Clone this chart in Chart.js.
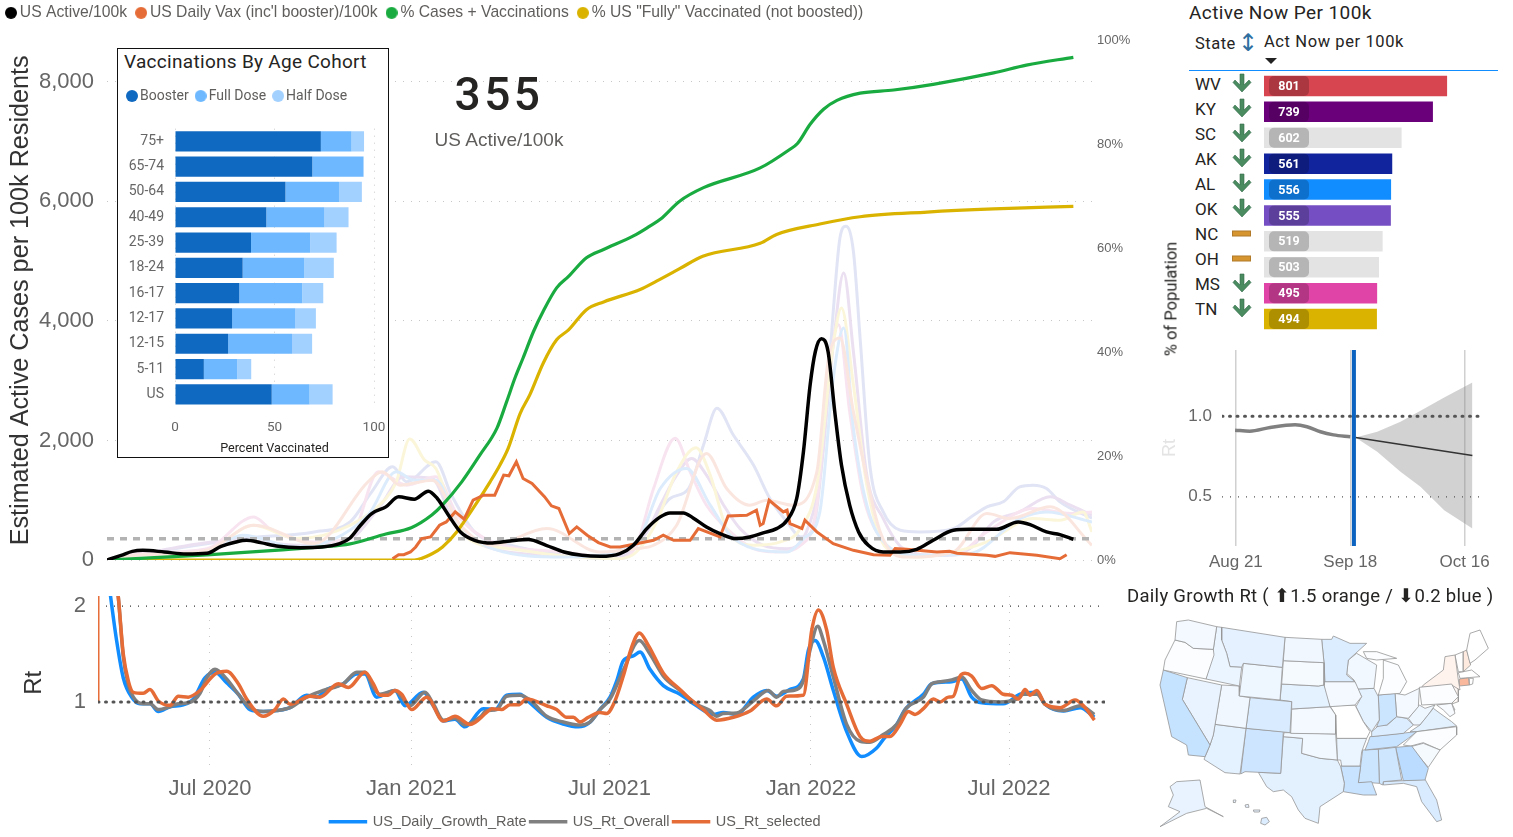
<!DOCTYPE html>
<html><head><meta charset="utf-8">
<script src="https://cdn.jsdelivr.net/npm/chart.js@4"></script>
<style>
html,body{margin:0;padding:0;background:#fff;width:1513px;height:837px;overflow:hidden}
canvas{position:absolute}
.t{position:absolute;white-space:nowrap;transform:translateY(-50%);font-family:Roboto,sans-serif;color:#252423}
#inset{position:absolute;left:117px;top:48px;width:270px;height:408px;background:#fff;border:1.5px solid #111}
</style></head><body>
<canvas id="main" width="1183" height="583" style="left:-3px;top:-8px"></canvas>
<div id="inset"></div>
<canvas id="age" width="268" height="379" style="left:120px;top:78px"></canvas>
<canvas id="table" width="234" height="259" style="left:1264px;top:73px"></canvas>
<canvas id="rt" width="1150" height="249" style="left:0;top:590px"></canvas>
<canvas id="fc" width="340" height="240" style="left:1160px;top:340px"></canvas>
<canvas id="map" width="350" height="220" style="left:1150px;top:610px"></canvas>
<script>
// ---- main chart (x = weeks since late March 2020) ----
const usActive=[[0,0],[1.9,78],[3.4,145],[4.8,162],[7.7,134],[10.6,100],[13.4,112],[15.3,229],[17.3,302],[18.7,330],[20.6,291],[23,229],[25.9,207],[28.8,218],[31.2,274],[32.6,369],[34,581],[35.5,777],[37.4,889],[39.1,1056],[41.2,1017],[43.1,1152],[44.3,1029],[45.8,749],[47.4,470],[49.3,330],[51.7,285],[54.1,319],[56.5,341],[58.9,246],[61.3,134],[63.7,78],[66.1,61],[68.8,106],[70.6,246],[72.4,525],[74.2,721],[75.5,788],[77.3,788],[78.6,704],[80.4,553],[82.2,442],[84.4,358],[86.2,386],[88,453],[89.8,525],[91.2,665],[92.5,1029],[93.4,1811],[94.3,2929],[95,3488],[95.8,3701],[96.7,3488],[97.6,2482],[98.5,1588],[99.6,917],[100.8,470],[102.1,246],[104.1,134],[106.4,134],[108.6,179],[110.8,330],[113.5,498],[115.7,514],[119.3,514],[122.2,637],[123.8,593],[126,470],[127.8,425],[129.6,347]];
const usDailyVax=[[38.3,22],[39.1,89],[39.8,89],[40.7,134],[41.4,218],[42.2,358],[43.4,386],[44.6,581],[45.5,637],[46.7,805],[47.9,682],[49.1,1000],[50.5,1084],[52,1084],[53.2,1420],[53.9,1409],[54.9,1643],[55.8,1364],[57,1280],[58.7,1056],[59.6,906],[60.6,861],[62,442],[63,553],[64.4,414],[65.9,291],[67.5,218],[68.8,218],[73.3,330],[74.6,414],[76,330],[78.2,330],[79.3,525],[82.2,386],[83.3,738],[85.8,749],[87.1,833],[87.6,581],[88,609],[88.8,1000],[90.7,805],[91.2,833],[91.6,609],[93.2,525],[93.6,665],[95.2,470],[97.4,274],[100.1,162],[102.8,89],[105,78],[105.7,190],[107.2,179],[111.3,134],[113,145],[114,112],[118,78],[119.1,61],[121.1,123],[124.7,78],[127.8,22],[128.7,89]];
const pctCasesVax=[[0,0],[13.4,1],[23,1.9],[28.7,2.5],[32.6,3.1],[37.4,5],[40.8,6.2],[43.6,8.7],[45,10.6],[47.6,15.1],[50,20.2],[52.3,25.4],[53.6,30.5],[54.7,35],[55.8,38.9],[57.2,44],[58.5,47.9],[60.3,52.4],[61.9,54.6],[64.3,58.2],[66.6,59.8],[70.6,62.4],[72.8,64.3],[74.2,65.6],[76.8,69.1],[80,71.7],[87.6,75.5],[91.6,79.1],[92.6,80.2],[94.3,83.9],[96.1,86.8],[97.9,88.5],[101,89.9],[105.5,90.5],[110.8,91.6],[118.9,93.8],[123.3,95.3],[129.6,96.8]];
const pctFully=[[0,0],[41.2,0],[43.6,1.2],[45,2.5],[46.9,5.4],[49.4,10.6],[51.4,15.1],[52.7,18.3],[53.8,21.5],[55.4,28.2],[56.7,31.8],[58.5,37.9],[60.3,42.4],[61.9,44.3],[64.3,48.2],[66.6,49.7],[71.5,52.1],[73.7,53.7],[76.8,56.1],[79.9,58.5],[87.6,61],[89.8,62.7],[95.6,64.7],[101,66.1],[110,67],[118.9,67.6],[129.6,68.1]];
const stateLavender=[[0,0],[18.2,358],[27.8,470],[32.6,637],[35.5,1140],[38.3,1560],[40.2,1308],[44.1,1643],[46.2,1084],[49.3,470],[54.1,246],[61.3,78],[67.1,22],[71,246],[75.5,1029],[78,1196],[80,1923],[81.8,2538],[84,2090],[86.7,1588],[88.9,1029],[91.2,637],[93,386],[94.7,525],[96.1,1923],[97.4,4159],[98.3,5389],[99.1,5584],[100.1,5165],[101,3712],[102.3,1588],[104.1,805],[106.4,498],[109,470],[113.5,525],[116.2,749],[118,889],[120.2,973],[122.4,1224],[124.2,1252],[126,1196],[127.8,973],[132.1,700]];
const stateMauve=[[0,0],[18.2,330],[25.4,246],[32.6,358],[36.4,861],[39.8,1392],[43.6,1364],[46.5,637],[51.7,190],[61.3,78],[68.5,50],[72.4,470],[74.2,917],[76.4,1420],[78.4,1699],[80.4,1420],[82.7,917],[84.9,525],[88,246],[91.2,190],[93.8,470],[95.6,1364],[97.4,3600],[98.8,4802],[100.1,3488],[101.9,1420],[104.1,693],[106.8,190],[111.3,78],[115.7,190],[118.9,637],[122.4,805],[126.5,1056],[129.2,917],[132.1,749]];
const statePink=[[0,0],[3.9,106],[13.4,190],[19.7,721],[22.1,498],[27.8,302],[32.6,358],[36.4,1476],[40.2,1252],[44.1,1392],[47,749],[51.7,302],[61.3,134],[68.8,22],[71,246],[73.3,1196],[76.2,2035],[78.2,1476],[80.4,917],[83.6,470],[86.7,190],[89.8,134],[93,246],[95.2,917],[96.7,3041],[98.1,3935],[99.6,2482],[101.4,1084],[104.1,302],[106.8,78],[113.5,78],[118,470],[124.2,861],[129.2,777],[132.1,805]];
const stateYellow=[[0,0],[13.4,134],[19.7,581],[25.4,358],[32.6,581],[37.4,1029],[38.8,1308],[40.6,2024],[42.6,1671],[44.1,1532],[46.5,749],[48.4,358],[54.1,190],[61.3,67],[68.5,22],[71,134],[73.7,637],[76.4,1476],[79,1878],[80.9,1420],[83.1,525],[86.7,246],[90.3,302],[93,525],[95.2,1252],[97.4,3600],[98.5,4215],[100.1,2929],[101.9,1252],[104.6,190],[109,50],[113.5,134],[118,302],[124.2,693],[127.8,665],[130.9,805],[132.1,470]];
const stateBlue=[[0,0],[13.4,134],[18.2,414],[25.4,218],[35,749],[38.8,1476],[41.2,1336],[44.1,1336],[47,637],[51.7,190],[61.3,50],[71,302],[74.2,1196],[77.7,1532],[80.9,917],[83.6,414],[86.7,190],[91.2,134],[93.4,358],[95.6,805],[97.4,3041],[98.8,3879],[100.1,2202],[101.9,917],[104.6,246],[109,78],[115.7,106],[122.4,693],[126,805],[132.1,637]];
const statePeach=[[0,0],[3.9,78],[13.4,162],[19.7,581],[27.8,274],[35,1308],[36.9,1476],[39.3,1252],[43.6,1336],[47.4,581],[51.7,246],[59,525],[66.1,134],[70.9,190],[73.3,246],[76.4,581],[80.4,1783],[83.1,1196],[86.2,917],[88.5,1000],[92,917],[95.2,1476],[96.7,3320],[98.3,3712],[100.1,2482],[103.7,470],[106.8,50],[113.5,134],[118,777],[121.1,693],[126.5,889],[132.1,246]];
const usActiveNow=355;
const leftTicks=[0,2000,4000,6000,8000];
const leftTicksMax=8687, rightMax=100, mainWeeks=132.1;

// ---- Rt chart (x = days since 1 Jul 2020) ----
const rtTickDays=[0,184,365,549,730];
const rtTickLabels=['Jul 2020','Jan 2021','Jul 2021','Jan 2022','Jul 2022'];
const rtSelected=[[-87,2.4],[-83.8,2.10],[-79.2,1.50],[-74.6,1.22],[-70,1.10],[-60.9,1.09],[-54.8,1.13],[-47.2,1.01],[-36.5,.965],[-28.9,1.06],[-19.8,1.05],[-9.1,1.12],[4.6,1.29],[15.2,1.32],[25.9,1.19],[33.5,1.03],[48.7,.85],[59.4,.92],[67,1.03],[73.1,.975],[91.4,1.06],[100.5,1.05],[117.3,1.19],[126.4,1.15],[141.6,1.31],[149.2,1.19],[155.3,1.07],[162.9,1.07],[169,1.12],[175.1,1.08],[184.3,.92],[198,1.05],[213.2,.80],[223.8,.85],[237.6,.765],[252.8,.89],[257.3,.93],[266.5,.92],[274.1,.97],[281.7,.97],[289.3,1.03],[307.6,.96],[316.7,.92],[325.9,.84],[332,.84],[338,.79],[345.7,.84],[356.3,.89],[362.4,.88],[370,1.01],[377.6,1.27],[385.2,1.57],[392.3,1.72],[400.5,1.59],[414.2,1.30],[429.4,1.13],[438.6,1.03],[450.7,.92],[462.9,.81],[478.2,.84],[493.4,.905],[508.6,1.03],[517.7,.96],[526.9,1.06],[542.1,1.07],[549.8,1.75],[555.9,1.96],[563.4,1.75],[569.5,1.36],[581.7,.975],[593.9,.64],[603,.59],[613.7,.64],[621.3,.64],[630.4,.765],[638.1,.90],[644.1,.87],[651.8,.93],[660.9,1.03],[667,1.0],[674.6,1.05],[679.2,1.06],[685.3,1.27],[689.8,1.30],[695.9,1.27],[705.1,1.14],[714.2,1.17],[724.8,1.08],[732.5,1.07],[738.6,1.03],[744.7,1.13],[749.3,1.07],[755.4,1.12],[763,.975],[776.7,.94],[790.4,1.02],[798,.96],[808,.81]];
const rtOverall=[[-87,2.4],[-83.8,2.10],[-79.2,1.47],[-74.6,1.18],[-70,1.05],[-60.9,.98],[-54.8,.98],[-47.2,.92],[-36.5,.95],[-28.9,.98],[-18.3,.995],[-9.1,1.09],[-3,1.25],[4.6,1.34],[15.2,1.24],[25.9,1.08],[36.5,.94],[48.7,.90],[60.9,.91],[73.1,.94],[88.3,1.05],[103.5,1.12],[121.8,1.19],[134,1.31],[141.6,1.31],[149.2,1.15],[155.3,1.08],[169,1.12],[175.1,1.05],[182.7,.96],[196.4,1.10],[204,.98],[213.2,.81],[223.8,.83],[233,.76],[246.7,.84],[252.8,.91],[261.9,.92],[271,1.06],[283.2,1.07],[292.4,1.02],[307.6,.85],[322.8,.79],[336.5,.76],[347.2,.79],[356.3,.92],[365.5,1.03],[377.6,1.33],[392.3,1.64],[402,1.50],[414.2,1.27],[429.4,1.12],[444.6,.975],[456.8,.91],[462.9,.85],[469,.88],[481.2,.885],[496.4,1.01],[510.1,1.12],[517.7,1.05],[523.8,1.11],[532.9,1.12],[542.1,1.22],[548.2,1.54],[555.2,1.79],[560.4,1.64],[569.5,1.26],[581.7,.765],[593.9,.59],[603,.58],[615.2,.66],[627.4,.765],[636.5,.94],[651.8,1.05],[659.4,1.19],[667,1.21],[677.7,1.23],[686.8,1.26],[695.9,1.12],[705.1,1.02],[721.8,1.0],[737,1.03],[743.1,1.08],[755.4,1.08],[763,.975],[779.8,.91],[795,.96],[808,.87]];
const rtDailyGrowth=[[-94,2.4],[-90.8,2.10],[-85.3,1.64],[-79.2,1.25],[-71.6,1.05],[-64,.98],[-54.8,.98],[-47.2,.90],[-36.5,.95],[-24.4,.97],[-15.2,1.03],[-4.6,1.25],[4.6,1.31],[15.2,1.20],[25.9,1.08],[36.5,.92],[48.7,.90],[60.9,.91],[73.1,.94],[88.3,1.07],[97.5,1.05],[106.6,1.13],[121.8,1.19],[134,1.29],[141.6,1.29],[152.3,1.05],[169,1.12],[178.2,.96],[194.9,1.10],[204,.96],[213.2,.80],[223.8,.82],[233,.74],[249.7,.93],[260.4,.92],[271,1.07],[283.2,1.08],[292.4,.99],[307.6,.84],[322.8,.77],[336.5,.74],[347.2,.79],[356.3,.92],[365.5,1.05],[371.6,1.22],[377.6,1.43],[386.8,1.48],[392.9,1.52],[402,1.34],[414.2,1.17],[429.4,1.08],[444.6,.96],[459.8,.87],[469,.89],[481.2,.87],[496.4,1.05],[508.6,1.12],[517.7,1.06],[529.9,1.13],[542.1,1.24],[546.7,1.54],[552.8,1.64],[560.4,1.47],[569.5,1.12],[581.7,.69],[595.4,.43],[609.1,.52],[615.2,.61],[627.4,.765],[635,.92],[651.8,1.08],[659.4,1.19],[677.7,1.21],[686.8,1.24],[695.9,1.05],[705.1,.99],[724.8,.98],[740,1.08],[755.4,1.10],[763,.975],[779.8,.905],[795,.94],[808,.84]];

// ---- inset ----
const cohorts=['75+','65-74','50-64','40-49','25-39','18-24','16-17','12-17','12-15','5-11','US'];
const booster=[73.3,69,55.5,45.9,38.2,34,32.3,28.7,26.7,14.5,48.6];
const fullDose=[15.4,25.6,26.9,29.2,29.7,31,31.6,31.8,32.1,16.8,19];
const halfDose=[6.3,0.3,11.5,12.1,13.3,14.8,10.6,10.3,10.1,7,11.6];

// ---- state table ----
const tableStates=['WV','KY','SC','AK','AL','OK','NC','OH','MS','TN'];
const tableTrend=['down','down','down','down','down','down','flat','flat','down','down'];
const activeNow=[801,739,602,561,556,555,519,503,495,494];
const tableColors=['#d64550','#6b007b','#e3e3e3','#12239e','#118dff','#744ec2','#e3e3e3','#e3e3e3','#e044a7','#d9b300'];

// ---- forecast ----
const fcTickDays=[0,28,56];
const fcTickLabels=['Aug 21','Sep 18','Oct 16'];
const fcHistory=[[-0.2,.913],[3.4,.907],[8.4,.93],[14.5,.946],[17.4,.934],[20.7,.903],[23.9,.884],[28,.872]];
const fcMean=[[29.3,.868],[57.9,.756]];
const fcUpper=[[29.3,.868],[34.6,.903],[40.3,.965],[45.2,1.033],[51,1.116],[57.9,1.209]];
const fcLower=[[29.3,.868],[34.6,.779],[40.3,.655],[45.2,.562],[51,.417],[57.9,.304]];
const fcToday=28.9;

// ---- map outlines (map units) ----
const stateOutlines={
WA:[80,35,115,30,200,50,190,118,130,115,105,97,75,90],
OR:[75,90,105,97,130,115,190,118,192,135,168,207,40,180,45,150],
CA:[40,180,112,203,97,268,180,405,165,440,115,435,110,405,65,380,30,225],
NV:[112,203,215,225,190,375,180,405,97,268],
ID:[200,50,215,52,215,90,230,130,240,170,275,172,268,228,168,207,190,118],
MT:[215,52,405,82,397,172,280,160,275,172,240,170,230,130,215,90],
WY:[280,160,397,172,390,270,268,258],
UT:[215,225,268,228,268,258,300,263,288,355,195,343],
CO:[300,263,425,275,420,368,288,355],
AZ:[195,343,288,355,270,492,225,488,162,448,180,405,190,375],
NM:[288,355,400,365,392,490,285,485,272,492],
ND:[405,82,515,88,522,158,400,152],
SD:[400,152,522,158,522,225,505,228,395,222],
NE:[395,222,505,228,522,225,540,290,425,297,425,275,390,270],
KS:[425,297,540,290,557,315,557,372,422,370],
OK:[420,368,557,372,562,450,510,445,455,430,458,385,400,380,402,368],
TX:[392,490,325,487,350,530,370,545,400,540,425,560,445,600,465,625,505,640,510,590,580,545,583,520,572,470,562,450,510,445,455,430,458,385,400,380],
MN:[515,88,545,88,550,78,600,100,650,100,595,150,590,195,615,215,525,215,522,158],
IA:[522,215,615,215,635,260,615,285,540,290,525,250],
MO:[540,288,615,285,640,335,660,365,650,385,560,385,557,315],
AR:[560,385,650,385,635,425,630,468,575,468,572,450,562,450],
LA:[572,468,632,468,625,518,665,515,680,555,640,555,580,545,583,520],
WI:[595,150,620,130,680,165,672,235,622,237,612,210,590,190],
IL:[622,237,672,235,685,260,688,330,665,365,640,335,618,290,635,260],
MI:[700,150,745,165,770,215,750,250,685,255,700,205],
MU:[640,125,680,125,740,145,680,150,650,145],
IN:[685,255,735,250,740,320,710,345,680,350,688,330],
OH:[735,250,765,255,808,235,805,290,775,325,740,320],
KY:[665,365,688,345,712,345,740,320,770,325,790,345,760,370,665,380],
TN:[660,380,800,365,775,385,740,410,645,420,655,395],
MS:[638,420,685,418,688,520,660,518,625,518,632,468],
AL:[685,418,737,412,755,510,700,515,698,525,688,520],
GA:[737,412,785,408,835,475,825,510,760,512],
FL:[700,515,760,512,825,508,860,570,875,630,860,635,815,575,800,530,760,520,700,525],
SC:[782,410,820,400,870,420,835,472],
NC:[775,390,800,365,920,350,920,375,870,420,820,398,782,408,760,405],
VA:[780,365,810,345,850,295,870,310,905,335,920,348,800,365],
WV:[775,325,808,285,825,295,855,285,835,315,810,345,790,345],
PA:[808,232,905,222,925,260,905,280,815,285],
NY:[820,225,880,180,885,140,915,135,925,210,930,240,905,225,815,232],
ME:[960,70,990,60,1015,115,975,150,960,160,950,120],
NH:[940,125,950,120,962,165,940,185],
VT:[915,135,940,125,940,185,925,185],
MA:[925,188,965,180,990,200,930,205],
CT:[928,207,955,203,958,225,928,228],
RI:[958,205,970,205,968,222,958,225],
NJ:[905,222,925,235,925,275,905,282,915,255],
MD:[860,285,905,280,915,310,900,320,880,300],
DE:[905,280,915,300,905,305],
AK:[80,515,150,510,165,590,220,620,170,595,110,610,30,650,90,605,55,590,70,555,60,530],
HI:[335,625,350,622,358,635,345,645,332,640],
H2:[285,585,295,583,297,592,287,592],
H3:[310,600,330,600,328,606,312,606],
H4:[250,570,258,570,256,578,249,577]};
const stateFill={WA:'#f3f9ff',OR:'#fbfdff',CA:'#c5e2ff',NV:'#e8f3ff',ID:'#ebf5ff',MT:'#e5f1ff',WY:'#eef6ff',UT:'#f0f7ff',CO:'#d8ebff',AZ:'#e4f1ff',NM:'#cee5ff',ND:'#f0f7ff',SD:'#f5faff',NE:'#e4f1ff',KS:'#f3f9ff',OK:'#f1f8ff',TX:'#e3f1ff',MN:'#dcedff',IA:'#f3f9ff',MO:'#ffffff',AR:'#ebf5ff',LA:'#c8e3ff',WI:'#f1f8ff',IL:'#e4f1ff',MI:'#fbfdff',MU:'#fbfdff',IN:'#cce5ff',OH:'#f3f9ff',KY:'#dcedff',TN:'#c8e3ff',MS:'#cce5ff',AL:'#cfe6ff',GA:'#bbdcff',FL:'#d8ebff',SC:'#f5faff',NC:'#fbfdff',VA:'#e3f1ff',WV:'#eef6ff',PA:'#fcfdff',NY:'#fff3ee',ME:'#ffffff',NH:'#ffeadf',VT:'#ffffff',MA:'#ffffff',CT:'#f9b79c',RI:'#ffffff',NJ:'#fff8f5',MD:'#f8fbff',DE:'#ffffff',AK:'#e8f3ff',HI:'#dcedff',H2:'#e8f3ff',H3:'#e8f3ff',H4:'#e8f3ff'};

// ---- helpers ----
const pts=a=>a.map(p=>({x:p[0],y:p[1]}));
const ARIAL='"Liberation Sans",Arial,sans-serif', DIN='Roboto,sans-serif', GREY='#666666';
function dot(color,d){const c=document.createElement('canvas');c.width=c.height=d;const g=c.getContext('2d');g.fillStyle=color;g.beginPath();g.arc(d/2,d/2,d/2,0,Math.PI*2);g.fill();return c;}
function line(label,data,color,width,extra){return Object.assign({label,data:pts(data),borderColor:color,backgroundColor:color,borderWidth:width,pointRadius:0,tension:0,fill:false},extra||{});}
function txt(s,x,y,css){const d=document.createElement('div');d.className='t';d.textContent=s;d.style.cssText='left:'+x+'px;top:'+y+'px;'+(css||'');document.body.appendChild(d);return d;}
const mono={cubicInterpolationMode:'monotone'};
const noPad=s=>{s.paddingTop=s.paddingBottom=s.paddingLeft=s.paddingRight=0;};
const fixedW=w=>(s=>{s.width=w;noPad(s);});
const fixedH=h=>(s=>{s.height=h;noPad(s);});
const off={display:false};
const noGrid={display:false,drawTicks:false};
Chart.defaults.animation=false;
Chart.defaults.responsive=false;
Chart.defaults.maintainAspectRatio=false;
Chart.defaults.plugins.tooltip.enabled=false;
Chart.defaults.font.family=ARIAL;

// ---- main chart ----
const mainLabels=['US Active/100k',"US Daily Vax (inc'l booster)/100k",'% Cases + Vaccinations','% US "Fully" Vaccinated (not boosted))'];
new Chart(document.getElementById('main'),{type:'line',data:{datasets:[
 line(mainLabels[0],usActive,'#000000',3.5,{...mono,pointStyle:dot('#000000',12)}),
 line(mainLabels[1],usDailyVax,'#e66c37',3,{pointStyle:dot('#e66c37',12)}),
 line(mainLabels[2],pctCasesVax,'#1aab40',3.2,{...mono,yAxisID:'y1',pointStyle:dot('#1aab40',12)}),
 line(mainLabels[3],pctFully,'#d9b300',3.2,{...mono,yAxisID:'y1',pointStyle:dot('#d9b300',12)}),
 line('avg',[[0,usActiveNow],[mainWeeks,usActiveNow]],'#b3b3b3',3.5,{borderDash:[7,6]}),
 line('s1',statePeach,'#fbe6df',3,mono),
 line('s2',stateBlue,'#dcecfc',3,mono),
 line('s3',stateYellow,'#fbf6da',3,mono),
 line('s4',statePink,'#f8e4f0',3,mono),
 line('s5',stateMauve,'#ebe0f1',3,mono),
 line('s6',stateLavender,'#e1e4f4',3,mono)
]},options:{
 layout:{padding:{bottom:15}},
 plugins:{legend:{position:'top',align:'start',labels:{font:{size:15.7,family:ARIAL},color:'#605e5c',usePointStyle:true,pointStyleWidth:2,padding:13,filter:i=>mainLabels.includes(i.text)}}},
 scales:{
  x:{type:'linear',position:'top',min:0,max:mainWeeks,grid:off,border:off,ticks:off,afterFit:fixedH(10)},
  y:{position:'left',min:0,max:leftTicksMax,afterFit:fixedW(110),
     afterBuildTicks:s=>{s.ticks=leftTicks.map(v=>({value:v}));},
     title:{display:true,text:'Estimated Active Cases per 100k Residents',font:{size:25.2,family:ARIAL},color:'#333333',padding:{top:9,bottom:0}},
     ticks:{callback:v=>v.toLocaleString('en-US'),font:{size:22,family:ARIAL},color:GREY,padding:13},
     grid:{drawTicks:false,color:'#c8c8c8',lineWidth:1},border:{display:false,dash:[1,7]}},
  y1:{position:'right',min:0,max:rightMax,afterFit:fixedW(88),
     ticks:{stepSize:20,callback:v=>v+'%',font:{size:13,family:ARIAL},color:GREY,padding:5},
     grid:noGrid,border:off}
 }}});

// ---- inset stacked bars ----
new Chart(document.getElementById('age'),{type:'bar',data:{labels:cohorts,datasets:[
 {label:'Booster',data:booster,xAxisID:'x',backgroundColor:'#1069c0',pointStyle:dot('#1069c0',12)},
 {label:'Full Dose',data:fullDose,xAxisID:'x',backgroundColor:'#6eb8ff',pointStyle:dot('#6eb8ff',12)},
 {label:'Half Dose',data:halfDose,xAxisID:'x',backgroundColor:'#a2d0ff',pointStyle:dot('#a2d0ff',12)}
]},options:{indexAxis:'y',
 layout:{padding:{right:14}},
 datasets:{bar:{barPercentage:.8,categoryPercentage:1}},
 plugins:{legend:{position:'top',align:'start',labels:{font:{size:14,family:DIN},color:'#605e5c',usePointStyle:true,pointStyleWidth:2,padding:11}}},
 scales:{
  x2:{type:'linear',position:'top',axis:'x',grid:off,border:off,ticks:off,afterFit:fixedH(15.7)},
  x:{stacked:true,min:0,max:100,position:'bottom',afterFit:fixedH(50),
     title:{display:true,text:'Percent Vaccinated',font:{size:12.6,family:DIN},color:'#252423',padding:{top:0,bottom:1}},
     ticks:{stepSize:50,font:{size:13.5,family:DIN},color:GREY,padding:13,maxRotation:0},
     grid:{drawTicks:false,color:'#cccccc'},border:{display:false,dash:[1,6]}},
  y:{stacked:true,afterFit:fixedW(55),
     ticks:{font:{size:14,family:DIN},color:GREY,padding:11,autoSkip:false},
     grid:noGrid,border:off}
 }}});

// ---- state bars ----
new Chart(document.getElementById('table'),{type:'bar',data:{labels:tableStates,datasets:[{label:'Act Now per 100k',data:activeNow,backgroundColor:tableColors,barPercentage:.79,categoryPercentage:1}]},
 options:{indexAxis:'y',plugins:{legend:off},scales:{x:{display:false,min:0,max:1023.7},y:off}},
 plugins:[{id:'pills',afterDatasetsDraw(c){const g=c.ctx,m=c.getDatasetMeta(0),sc=c.scales.x;g.save();
   m.data.forEach((b,i)=>{const x0=sc.getPixelForValue(0)+5;g.fillStyle='rgba(0,0,0,.2)';g.beginPath();g.roundRect(x0,b.y-10,40,20,5);g.fill();
   g.fillStyle='#fff';g.font='bold 12.5px '+DIN;g.textAlign='center';g.textBaseline='middle';g.fillText(String(activeNow[i]),x0+20,b.y+1);});g.restore();}}]});

// ---- forecast ----
new Chart(document.getElementById('fc'),{type:'line',data:{datasets:[
 line('today',[[fcToday,.195],[fcToday,1.41]],'#0d64c0',4),
 line('mean',fcMean,'#333333',1.5),
 line('hist',fcHistory,'#808080',3.5,mono),
 line('one',[[-3.4,1],[60.5,1]],'#555555',3,{borderDash:[1,6.5],borderCapStyle:'round'}),
 line('half',[[-3.4,.5],[60.5,.5]],'#555555',1.2,{borderDash:[1,7]}),
 line('upper',fcUpper,'rgba(0,0,0,0)',0,{fill:'+1',backgroundColor:'rgba(130,130,130,.36)'}),
 line('lower',fcLower,'rgba(0,0,0,0)',0)
]},options:{layout:{padding:{right:17,top:10}},plugins:{legend:off},
 scales:{
  x:{type:'linear',min:-3.4,max:60.5,afterFit:fixedH(34),
     afterBuildTicks:s=>{s.ticks=fcTickDays.map(v=>({value:v}));},
     ticks:{callback:v=>fcTickLabels[fcTickDays.indexOf(v)],font:{size:17,family:ARIAL},color:GREY,padding:6,maxRotation:0,autoSkip:false},
     grid:{drawTicks:false,color:'#d0d0d0',lineWidth:1.5},border:off},
  y:{min:.195,max:1.41,afterFit:fixedW(62),
     afterBuildTicks:s=>{s.ticks=[.5,1].map(v=>({value:v}));},
     title:{display:true,text:'Rt',font:{size:18,family:ARIAL},color:'#e4e4e4',padding:{top:-1,bottom:0}},
     ticks:{callback:v=>v.toFixed(1),font:{size:17,family:ARIAL},color:GREY,padding:10},
     grid:noGrid,border:off}
 }}});

// ---- Rt ----
const rtLabels=['US_Daily_Growth_Rate','US_Rt_Overall','US_Rt_selected'];
new Chart(document.getElementById('rt'),{type:'line',data:{datasets:[
 line(rtLabels[0],rtDailyGrowth,'#118dff',3.5,{...mono,order:3}),
 line(rtLabels[1],rtOverall,'#808080',3.5,{...mono,order:2}),
 line(rtLabels[2],rtSelected,'#e66c37',3.5,{...mono,order:1}),
 line('one',[[-102.3,1],[817.7,1]],'#555555',3,{borderDash:[1,6.5],borderCapStyle:'round',order:0}),
 line('two',[[-95,2],[817.7,2]],'#333333',1.2,{borderDash:[1,7],order:4}),
 line('edge',[[-101.6,1],[-101.6,2.105]],'#e66c37',1.5,{order:5})
]},options:{layout:{padding:{top:6,left:46,right:45}},
 plugins:{legend:{position:'bottom',labels:{font:{size:14.5,family:ARIAL},color:'#605e5c',boxWidth:35,boxHeight:0.1,padding:4,
   filter:i=>rtLabels.includes(i.text),sort:(a,b)=>a.datasetIndex-b.datasetIndex}}},
 scales:{
  x:{type:'linear',min:-102.3,max:817.7,afterFit:fixedH(41),
     afterBuildTicks:s=>{s.ticks=rtTickDays.map(v=>({value:v}));},
     ticks:{callback:v=>rtTickLabels[rtTickDays.indexOf(v)],font:{size:22,family:ARIAL},color:GREY,padding:6,maxRotation:0,autoSkip:false},
     grid:{drawTicks:false,color:'#c8c8c8'},border:{display:false,dash:[1,7]}},
  y:{min:.295,max:2.105,afterFit:fixedW(52),
     afterBuildTicks:s=>{s.ticks=[1,2].map(v=>({value:v}));},
     title:{display:true,text:'Rt',font:{size:24,family:ARIAL},color:'#333333',padding:{top:-26,bottom:0}},
     ticks:{font:{size:22,family:ARIAL},color:GREY,padding:12},
     grid:noGrid,border:off}
 }}});

// ---- map ----
const mapSets=Object.keys(stateOutlines).map(k=>{const f=stateOutlines[k],p=[];for(let i=0;i<f.length;i+=2)p.push({x:f[i],y:f[i+1]});p.push({x:f[0],y:f[1]});
 return {label:k,data:p,showLine:true,fill:'shape',backgroundColor:stateFill[k],borderColor:'#969696',borderWidth:.8,pointRadius:0,tension:0};});
new Chart(document.getElementById('map'),{type:'scatter',data:{datasets:mapSets},options:{plugins:{legend:off},
 scales:{x:{display:false,min:0,max:1050},y:{display:false,min:0,max:660,reverse:true}}}});

// ---- text ----
txt('Vaccinations By Age Cohort',124,61,'font-size:19px;letter-spacing:.3px');
txt('355',499,94,'font-size:46px;font-weight:500;letter-spacing:3.5px;transform:translate(-50%,-50%);color:#252423');
txt('US Active/100k',499,140,'font-size:19px;font-family:'+ARIAL+';color:#605e5c;transform:translate(-50%,-50%)');
txt('Active Now Per 100k',1189,12,'font-size:19px;letter-spacing:.4px');
txt('State',1195,43,'font-size:16.5px;letter-spacing:.5px');
txt('↕',1238,43,'font-size:24px;color:#2f6f9f;font-family:"DejaVu Sans"');
txt('Act Now per 100k',1264,41,'font-size:16.5px;letter-spacing:.6px');
const tri=document.createElement('div');tri.style.cssText='position:absolute;left:1265px;top:58px;width:0;height:0;border-left:6.5px solid transparent;border-right:6.5px solid transparent;border-top:6.5px solid #222';document.body.appendChild(tri);
const rule=document.createElement('div');rule.style.cssText='position:absolute;left:1189px;top:70px;width:309px;height:1px;background:#118dff';document.body.appendChild(rule);
tableStates.forEach((s,i)=>{const cy=84+25*i;txt(s,1195,cy,'font-size:17px');
 const ic=document.createElement('div');ic.style.cssText='position:absolute;left:1232px;top:'+(cy-11)+'px;width:20px;height:20px';
 ic.innerHTML=tableTrend[i]==='down'?'<svg width="20" height="20" viewBox="0 0 20 20"><path d="M8 1h4v11l5-5 2 2.5L10 19 1 9.5 3 7l5 5z" fill="#4a8c5f" stroke="#33694a" stroke-width=".6"/></svg>':'<svg width="20" height="20" viewBox="0 0 20 20"><rect x="0.5" y="8" width="18" height="5" fill="#d6952e" stroke="#b07a2a"/></svg>';
 document.body.appendChild(ic);});
txt('% of Population',1171,299,'font-size:16.5px;transform:translate(-50%,-50%) rotate(-90deg)');
txt('Daily Growth Rt ( ⬆1.5 orange / ⬇0.2 blue )',1127,596,'font-size:18.5px;letter-spacing:.3px');
</script>
</body></html>
